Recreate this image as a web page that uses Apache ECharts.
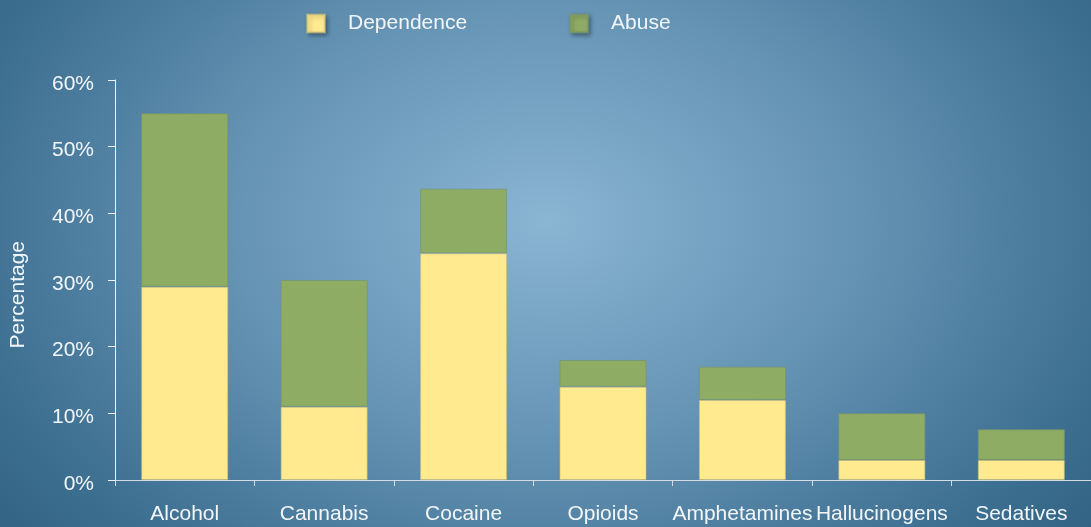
<!DOCTYPE html>
<html>
<head>
<meta charset="utf-8">
<script src="https://cdn.jsdelivr.net/npm/echarts@6/dist/echarts.min.js"></script>
<style>
html,body{margin:0;padding:0;}
#c{width:1091px;height:527px;background:radial-gradient(ellipse 72% 105% at 50% 42%, #8ab5d3 0%, #6593b4 40%, #3d6f90 75%, #2a5a7a 100%);}
</style>
</head>
<body>
<div id="c"></div>
<script>
const categories = ['Alcohol','Cannabis','Cocaine','Opioids','Amphetamines','Hallucinogens','Sedatives'];
const dependence = [29, 11, 34, 14, 12, 3, 3];
const abuse = [26, 19, 9.7, 4, 5, 7, 4.6];
const yTicks = {min: 0, max: 60, interval: 10};

const chart = echarts.init(document.getElementById('c'), null, {renderer:'canvas'});
const font = '"Liberation Sans", Arial, sans-serif';
const txt = '#f2f6f9';
chart.setOption({
  backgroundColor: 'transparent',
  animation: false,
  textStyle: {fontFamily: font},
  legend: {
    left: 301, top: 8,
    itemWidth: 18, itemHeight: 18, itemGap: 102,
    icon: 'rect',
    itemStyle: {shadowBlur: 4, shadowColor: 'rgba(0,0,0,0.35)', shadowOffsetX: 2, shadowOffsetY: 2},
    textStyle: {color: txt, fontSize: 21, fontFamily: font, padding: [0,0,0,18]},
    data: ['Dependence','Abuse']
  },
  grid: {left: 115, top: 80, width: 980, height: 400, containLabel: false},
  xAxis: {
    type: 'category',
    data: categories,
    axisLine: {lineStyle: {color: '#d4dde4', width: 1}},
    axisTick: {show: true, length: 6, lineStyle: {color: '#d4dde4'}},
    axisLabel: {color: txt, fontSize: 21, fontFamily: font, margin: 24, interval: 0}
  },
  yAxis: {
    type: 'value',
    min: yTicks.min, max: yTicks.max, interval: yTicks.interval,
    axisLine: {show: true, lineStyle: {color: '#eef2f5', width: 1}},
    axisTick: {show: true, length: 7, lineStyle: {color: '#eef2f5'}},
    splitLine: {show: false},
    axisLabel: {
      color: txt, fontSize: 21, fontFamily: font, margin: 21,
      formatter: v => '{p|' + v + '%}',
      rich: {p: {color: txt, fontSize: 21, fontFamily: font, padding: [8,0,0,0]}}
    }
  },
  graphic: [{
    type: 'text', left: 8, top: 241, rotation: Math.PI/2,
    style: {text: 'Percentage', fill: txt, fontSize: 21, fontFamily: font}
  }],
  series: [
    {name: 'Dependence', type: 'bar', stack: 's', barWidth: 87, data: dependence,
     itemStyle: {color: '#ffea8f', borderColor: 'rgba(200,190,120,0.6)', borderWidth: 1}},
    {name: 'Abuse', type: 'bar', stack: 's', barWidth: 87, data: abuse,
     itemStyle: {color: '#8fac64', borderColor: 'rgba(120,150,110,0.7)', borderWidth: 1}}
  ]
});
</script>
</body>
</html>
